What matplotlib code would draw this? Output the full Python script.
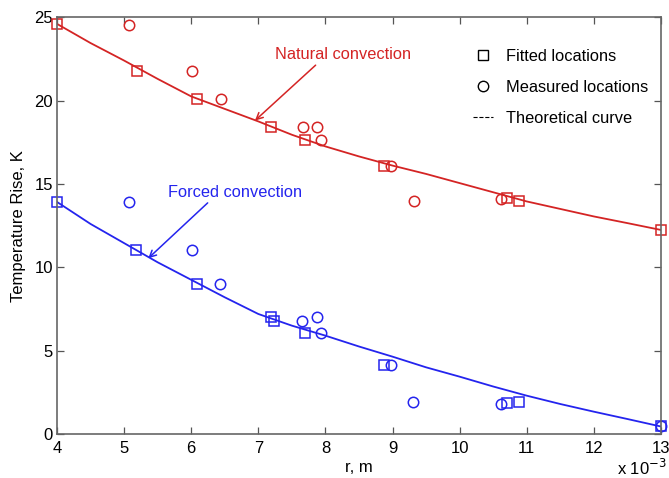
import numpy as np
import matplotlib.pyplot as plt

plt.rcParams['font.family'] = ['Liberation Sans', 'DejaVu Sans']

# data (r in units of 1e-3 m, temperature rise in K)
nat_fit_r = [4.0, 5.19, 6.09, 7.19, 7.70, 8.88, 10.70, 10.89, 13.0]
nat_fit_t = [24.6, 21.75, 20.1, 18.42, 17.62, 16.1, 14.13, 13.98, 12.24]
nat_meas_r = [5.07, 6.01, 6.44, 7.66, 7.87, 7.94, 8.97, 9.32, 10.62]
nat_meas_t = [24.55, 21.75, 20.1, 18.42, 18.42, 17.62, 16.1, 13.96, 14.1]
nat_curve_r = [4.0, 4.5, 5.0, 5.5, 6.0, 6.5, 7.0, 7.5, 8.0, 8.5, 9.0, 9.5, 10.0, 10.5, 11.0, 11.5, 12.0, 12.5, 13.0]
nat_curve_t = [24.6, 23.45, 22.4, 21.3, 20.25, 19.5, 18.75, 17.95, 17.25, 16.65, 16.1, 15.6, 15.05, 14.5, 13.95, 13.5, 13.05, 12.65, 12.24]

frc_fit_r = [4.0, 5.18, 6.09, 7.19, 7.24, 7.70, 8.88, 10.70, 10.89, 13.0]
frc_fit_t = [13.92, 11.04, 8.98, 7.0, 6.8, 6.04, 4.14, 1.85, 1.94, 0.48]
frc_meas_r = [5.08, 6.01, 6.43, 7.65, 7.87, 7.94, 8.97, 9.31, 10.62, 13.0]
frc_meas_t = [13.92, 11.04, 8.98, 6.8, 7.0, 6.04, 4.14, 1.9, 1.82, 0.48]
frc_curve_r = [4.0, 4.5, 5.0, 5.5, 6.0, 6.5, 7.0, 7.5, 8.0, 8.5, 9.0, 9.5, 10.0, 10.5, 11.0, 11.5, 12.0, 12.5, 13.0]
frc_curve_t = [13.92, 12.6, 11.45, 10.3, 9.25, 8.2, 7.2, 6.5, 5.9, 5.25, 4.64, 4.0, 3.44, 2.85, 2.3, 1.8, 1.34, 0.9, 0.45]

red = '#d42424'
blue = '#2424ee'

fig = plt.figure(figsize=(6.69, 4.78), dpi=100)
ax = fig.add_axes([0.0852, 0.092, 0.9028, 0.872])

ax.plot(nat_curve_r, nat_curve_t, '-', color=red, lw=1.3)
ax.plot(nat_fit_r, nat_fit_t, 's', mfc='none', mec=red, ms=7, mew=1.1, clip_on=False)
ax.plot(nat_meas_r, nat_meas_t, 'o', mfc='none', mec=red, ms=7.5, mew=1.1, clip_on=False)

ax.plot(frc_curve_r, frc_curve_t, '-', color=blue, lw=1.3)
ax.plot(frc_fit_r, frc_fit_t, 's', mfc='none', mec=blue, ms=7, mew=1.1, clip_on=False)
ax.plot(frc_meas_r, frc_meas_t, 'o', mfc='none', mec=blue, ms=7.5, mew=1.1, clip_on=False)

# legend handles in black
ax.plot([], [], 's', mfc='none', mec='k', ms=7, mew=1, label='Fitted locations')
ax.plot([], [], 'o', mfc='none', mec='k', ms=7.5, mew=1, label='Measured locations')
ax.plot([], [], '--', color='k', lw=0.8, label='Theoretical curve')
leg = ax.legend(loc='upper right', frameon=False, fontsize=11.8, handlelength=1.2,
                handletextpad=0.8, labelspacing=0.98, bbox_to_anchor=(1.003, 0.96))

ax.annotate('Natural convection', xy=(6.95, 18.8), xytext=(7.25, 22.74),
            color=red, fontsize=11.8, va='center', ha='left',
            arrowprops=dict(arrowstyle='->', color=red, lw=1.1, shrinkA=0, shrinkB=0,
                            relpos=(0.32, 0.0)))
ax.annotate('Forced convection', xy=(5.36, 10.54), xytext=(5.65, 14.48),
            color=blue, fontsize=11.8, va='center', ha='left',
            arrowprops=dict(arrowstyle='->', color=blue, lw=1.1, shrinkA=0, shrinkB=0,
                            relpos=(0.32, 0.0)))

ax.set_xlim(4, 13)
ax.set_ylim(0, 25)
ax.set_xticks(range(4, 14))
ax.set_yticks([0, 5, 10, 15, 20, 25])
ax.tick_params(direction='in', top=True, right=True, length=5, width=0.9,
               labelsize=12, color='#555555')
ax.tick_params(axis='x', pad=5)
ax.tick_params(axis='y', pad=3)
for s in ax.spines.values():
    s.set_color('#666666')
    s.set_linewidth(1.2)

ax.set_xlabel('r, m', fontsize=12, labelpad=3)
ax.set_ylabel('Temperature Rise, K', fontsize=12, labelpad=6)
fig.text(0.922, 0.022, r'x 10$^{-3}$', fontsize=12, ha='left', va='center')

fig.savefig('out.png', dpi=100)
